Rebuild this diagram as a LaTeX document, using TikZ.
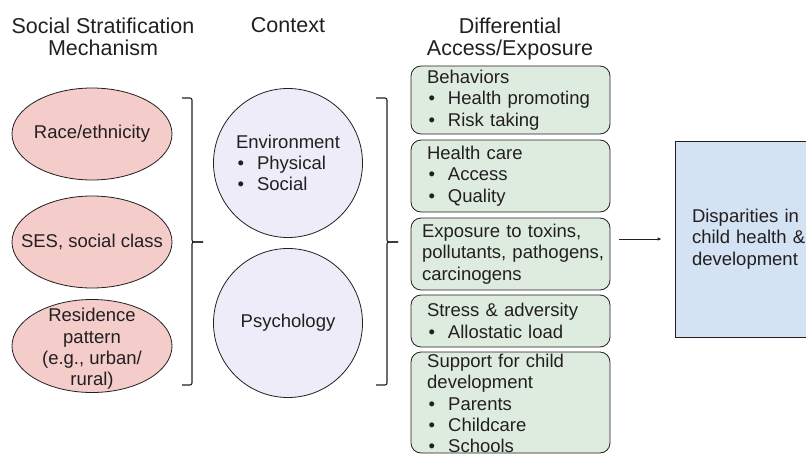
\documentclass[tikz,border=0pt]{standalone}
\usepackage{fontspec}
\setmainfont{Liberation Sans}
\usetikzlibrary{shapes.geometric,arrows.meta,calc}
\definecolor{pinkfill}{RGB}{244,204,202}
\definecolor{lavfill}{RGB}{237,236,248}
\definecolor{greenfill}{RGB}{222,236,224}
\definecolor{bluefill}{RGB}{211,227,244}
\definecolor{ink}{RGB}{35,31,32}
\newcommand{\bitem}[1]{\makebox[21pt][l]{\hspace{1.5pt}\textbullet}#1}
\begin{document}
\begin{tikzpicture}[x=1pt,y=-1pt,
  every node/.style={text=ink},
  body/.style={font=\fontsize{18.5}{21.3}\selectfont},
  head/.style={font=\fontsize{21.5}{22}\selectfont, align=center, inner sep=0, anchor=north},
  oval/.style={ellipse, draw=ink, line width=0.8pt, fill=pinkfill, minimum width=160pt, minimum height=92pt, inner sep=0},
  ctx/.style={circle, draw=ink, line width=0.8pt, fill=lavfill, minimum size=149pt, inner sep=0, body, align=left},
  gbox/.style={rectangle, rounded corners=10pt, draw=ink, line width=0.8pt, fill=greenfill, inner ysep=0pt, inner xsep=16pt, text width=167pt, align=left, body},
  outbox/.style={rectangle, draw=ink, line width=0.8pt, fill=bluefill, minimum height=196pt, inner xsep=17pt, text width=120pt, align=left, body},
  brace/.style={draw=ink, line width=1.1pt, rounded corners=2pt},
  arr/.style={draw=ink, line width=0.8pt, -{Latex[length=4pt,width=3.5pt]}}
]
\useasboundingbox (0,0) rectangle (806,455);

% headers
\node[head] (h1) at (103,17.5) {Social Stratification\\Mechanism};
\node[head] (h2) at (288,17.5) {Context};
\node[head] (h3) at (510,17.5) {Differential\\Access/Exposure};

% stratification ovals
\node[oval] (race) at (92,134) {};
\node[body, align=center, inner sep=0] (racet) at (race.center) {Race/ethnicity};
\node[oval] (ses) at (92,242) {};
\node[body, align=center, inner sep=0] (sest) at (ses.center) {SES, social class};
\node[oval, minimum height=93pt] (res) at (92,346) {};
\node[body, align=center, inner sep=0] (rest) at ([yshift=-3pt]res.center) {Residence\\pattern\\(e.g., urban/\\rural)};

% brace 1
\coordinate (b1t) at (182,98);
\coordinate (b1m) at (192,242);
\coordinate (b1tip) at (203,242);
\coordinate (b1b) at (182,385);
\draw[brace] (b1t) -| (b1m) -- (b1tip);
\draw[brace] (b1tip) -- (b1m) |- (b1b);

% context circles
\node[ctx] (env) at (288,163) {Environment\\\bitem{Physical}\\\bitem{Social}};
\node[ctx] (psy) at (288,323) {Psychology};

% brace 2
\coordinate (b2t) at (376,98);
\coordinate (b2m) at (387,242);
\coordinate (b2tip) at (398,242);
\coordinate (b2b) at (376,385);
\draw[brace] (b2t) -| (b2m) -- (b2tip);
\draw[brace] (b2tip) -- (b2m) |- (b2b);

% differential access boxes
\node[gbox, minimum height=68pt] (beh) at (510.5,100) {Behaviors\\\bitem{Health promoting}\\\bitem{Risk taking}};
\node[gbox, minimum height=72pt] (hc) at (510.5,176) {Health care\\\bitem{Access}\\\bitem{Quality}};
\node[gbox, minimum height=72pt, inner xsep=11pt, text width=177pt] (expo) at (510.5,254) {\mbox{Exposure to toxins,}\\\mbox{pollutants, pathogens,}\\\mbox{carcinogens}};
\node[gbox, minimum height=52pt] (str) at (510.5,321) {Stress \& adversity\\\bitem{Allostatic load}};
\node[gbox, minimum height=101pt] (sup) at (510.5,402.5) {};
\node[body, align=left, anchor=north west, inner sep=0, text width=167pt] (supt) at (427,354) {Support for child\\development\\\bitem{Parents}\\\bitem{Childcare}\\\bitem{Schools}};

% outcome
\node[outbox] (dis) at (752,239) {Disparities in\\child health \&\\development};

\draw[arr, shorten <=9pt, shorten >=13pt] (expo.east |- dis.west) -- (dis.west);
\end{tikzpicture}
\end{document}
